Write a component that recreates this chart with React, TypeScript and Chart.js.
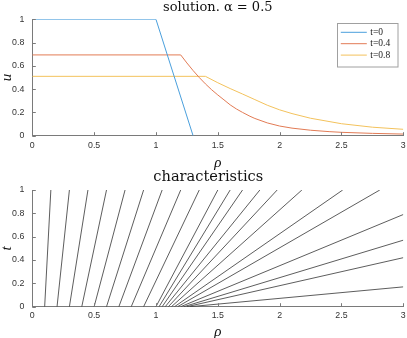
import React, { useEffect, useRef } from "react";
import { Chart, registerables } from "chart.js";
Chart.register(...registerables);

// ---- data: solution curves (rho, u) ----
const RHO_T0 = [0, 1, 1.3];
const U_T0 = [1, 1, 0];
const RHO_T04 = [0, 1.2, 1.25, 1.3, 1.35, 1.4, 1.45, 1.5, 1.55, 1.6, 1.65, 1.7, 1.76, 1.8, 1.9, 2.0, 2.1, 2.25, 2.4, 2.5, 2.75, 3.0];
const U_T04 = [0.694, 0.694, 0.625, 0.56, 0.5, 0.445, 0.395, 0.35, 0.308, 0.265, 0.23, 0.2, 0.167, 0.148, 0.11, 0.083, 0.065, 0.047, 0.035, 0.029, 0.02, 0.014];
const RHO_T08 = [0, 1.4, 1.5, 1.6, 1.7, 1.8, 1.9, 2.0, 2.1, 2.25, 2.5, 2.75, 3.0];
const U_T08 = [0.51, 0.51, 0.455, 0.405, 0.358, 0.31, 0.262, 0.222, 0.19, 0.15, 0.103, 0.073, 0.055];
const SERIES_LABELS = ["t=0", "t=0.4", "t=0.8"];
const SERIES_COLORS = ["#4a9fdc", "#e27b55", "#f3c25c"];

// ---- data: characteristics (start rho at t=0, end rho, end t) ----
const CHAR_START = [0.1, 0.2, 0.3, 0.4, 0.5, 0.6, 0.7, 0.8, 0.9, 1.0, 1.025, 1.05, 1.075, 1.1, 1.125, 1.15, 1.175, 1.2, 1.225, 1.25, 1.275];
const CHAR_END_RHO = [0.15, 0.3, 0.45, 0.6, 0.75, 0.9, 1.05, 1.2, 1.35, 1.5, 1.6, 1.7, 1.84, 1.98, 2.18, 2.51, 2.81, 3, 3, 3, 3];
const CHAR_END_T = [1, 1, 1, 1, 1, 1, 1, 1, 1, 1, 1, 1, 1, 1, 1, 1, 1, 0.79, 0.57, 0.42, 0.17];

const X_TICKS = [0, 0.5, 1, 1.5, 2, 2.5, 3];
const Y_TICKS = [0, 0.2, 0.4, 0.6, 0.8, 1];

const TOP_TITLE = "solution. α = 0.5";
const BOTTOM_TITLE = "characteristics";

const TICK_FONT = { family: "'Liberation Sans', Arial, sans-serif", size: 8.8 };
const SERIF = "'Liberation Serif', 'Times New Roman', serif";
const TITLE_SERIF = "'DejaVu Serif', serif";
const AXIS_COLOR = "#7a7a7a";

const inwardTicks = {
  id: "inwardTicks",
  afterDatasetsDraw(chart: any) {
    const { ctx, chartArea, scales } = chart;
    ctx.save();
    ctx.strokeStyle = AXIS_COLOR;
    ctx.lineWidth = 1;
    ctx.beginPath();
    scales.x.ticks.forEach((t: any) => {
      const px = Math.round(scales.x.getPixelForValue(t.value)) + 0.5;
      ctx.moveTo(px, chartArea.bottom);
      ctx.lineTo(px, chartArea.bottom - 3.5);
    });
    scales.y.ticks.forEach((t: any) => {
      const py = Math.round(scales.y.getPixelForValue(t.value)) + 0.5;
      ctx.moveTo(chartArea.left, py);
      ctx.lineTo(chartArea.left + 3.5, py);
    });
    ctx.stroke();
    ctx.restore();
  },
};

// title text drawn above the plot area, centre offset relative to the plot centre
const plotTitle = {
  id: "plotTitle",
  afterDraw(chart: any, _args: any, opts: any) {
    const { ctx, chartArea } = chart;
    ctx.save();
    ctx.font = `${opts.size}px ${TITLE_SERIF}`;
    ctx.fillStyle = "#111";
    ctx.textAlign = "center";
    ctx.textBaseline = "middle";
    const cx = (chartArea.left + chartArea.right) / 2 + (opts.dx || 0);
    ctx.fillText(opts.text, cx, opts.y);
    ctx.restore();
  },
};

const boxLegend = {
  id: "boxLegend",
  afterDraw(chart: any) {
    if (!chart.options.plugins.boxLegend?.show) return;
    const { ctx, chartArea } = chart;
    const w = 60.5, h = 43.5;
    const x0 = chartArea.right - 6 - w;
    const y0 = chartArea.top + 4;
    ctx.save();
    ctx.fillStyle = "#fff";
    ctx.fillRect(x0, y0, w, h);
    ctx.strokeStyle = "#a0a0a0";
    ctx.lineWidth = 1;
    ctx.strokeRect(Math.round(x0) + 0.5, Math.round(y0) + 0.5, w, h);
    ctx.font = `9.5px ${SERIF}`;
    ctx.textBaseline = "middle";
    ctx.textAlign = "left";
    chart.data.datasets.forEach((ds: any, i: number) => {
      const y = y0 + 9 + i * 11.4;
      ctx.strokeStyle = ds.borderColor;
      ctx.lineWidth = 1;
      ctx.beginPath();
      ctx.moveTo(x0 + 4, y);
      ctx.lineTo(x0 + 30, y);
      ctx.stroke();
      ctx.fillStyle = "#222";
      ctx.fillText(ds.label, x0 + 33.5, y);
    });
    ctx.restore();
  },
};

const fmt = (v: any) => String(Number(v));

function makeScales(xHeight: number, xLabelPad: number, xTitleLH: number, yTitle: string) {
  return {
    x: {
      type: "linear" as const,
      min: 0,
      max: 3,
      afterBuildTicks: (s: any) => { s.ticks = X_TICKS.map((v) => ({ value: v })); },
      afterFit: (s: any) => {
        s.height = xHeight;
        s.paddingLeft = 0;
        s.paddingRight = 0;
      },
      grid: { display: false, drawTicks: false },
      border: { display: true, color: AXIS_COLOR, width: 1 },
      ticks: { font: TICK_FONT, color: "#333", padding: xLabelPad, maxRotation: 0, callback: fmt },
      title: {
        display: true,
        text: "ρ",
        font: { family: SERIF, size: 15, style: "italic" as const, lineHeight: xTitleLH },
        color: "#111",
        padding: 0,
      },
    },
    y: {
      type: "linear" as const,
      min: 0,
      max: 1,
      afterBuildTicks: (s: any) => { s.ticks = Y_TICKS.map((v) => ({ value: v })); },
      afterFit: (s: any) => {
        s.width = 32.3;
        s.paddingTop = 0;
        s.paddingBottom = 0;
      },
      grid: { display: false, drawTicks: false },
      border: { display: true, color: AXIS_COLOR, width: 1 },
      ticks: { font: TICK_FONT, color: "#333", padding: 8, callback: fmt },
      title: {
        display: true,
        text: yTitle,
        font: { family: SERIF, size: 15, style: "italic" as const, lineHeight: 1 },
        color: "#111",
        padding: { top: 0, bottom: 0 },
      },
    },
  };
}

function TopChart() {
  const ref = useRef<HTMLCanvasElement>(null);
  useEffect(() => {
    const series = [
      [RHO_T0, U_T0],
      [RHO_T04, U_T04],
      [RHO_T08, U_T08],
    ];
    const chart = new Chart(ref.current!, {
      type: "scatter",
      data: {
        datasets: series.map(([xs, ys], i) => ({
          label: SERIES_LABELS[i],
          data: xs.map((x, k) => ({ x, y: ys[k] })),
          showLine: true,
          borderColor: SERIES_COLORS[i],
          backgroundColor: SERIES_COLORS[i],
          borderWidth: 1,
          pointRadius: 0,
          tension: 0,
        })),
      },
      options: {
        responsive: false,
        animation: false,
        layout: { autoPadding: false, padding: { top: 19.3, right: 3.7, bottom: 0, left: 0 } },
        plugins: {
          legend: { display: false },
          tooltip: { enabled: false },
          title: { display: false },
          plotTitle: { text: TOP_TITLE, size: 13, y: 7.5, dx: 0 },
          boxLegend: { show: true },
        } as any,
        scales: makeScales(34.3, 5, 14 / 15, "u") as any,
      },
      plugins: [inwardTicks, boxLegend, plotTitle],
    });
    return () => chart.destroy();
  }, []);
  return <canvas ref={ref} width={407} height={170} style={{ position: "absolute", left: 0, top: 0 }} />;
}

function BottomChart() {
  const ref = useRef<HTMLCanvasElement>(null);
  useEffect(() => {
    const chart = new Chart(ref.current!, {
      type: "scatter",
      data: {
        datasets: CHAR_START.map((r0, i) => ({
          label: "c" + i,
          data: [
            { x: r0, y: 0 },
            { x: CHAR_END_RHO[i], y: CHAR_END_T[i] },
          ],
          showLine: true,
          borderColor: "#333",
          borderWidth: 0.8,
          pointRadius: 0,
        })),
      },
      options: {
        responsive: false,
        animation: false,
        layout: { autoPadding: false, padding: { top: 20, right: 3.7, bottom: 0, left: 0 } },
        plugins: {
          legend: { display: false },
          tooltip: { enabled: false },
          title: { display: false },
          plotTitle: { text: BOTTOM_TITLE, size: 14.6, y: 7.5, dx: -9.5 },
          boxLegend: { show: false },
        } as any,
        scales: makeScales(31.3, 4, 12 / 15, "t") as any,
      },
      plugins: [inwardTicks, plotTitle],
    });
    return () => chart.destroy();
  }, []);
  return <canvas ref={ref} width={407} height={168} style={{ position: "absolute", left: 0, top: 170 }} />;
}

export default function App() {
  return (
    <div style={{ position: "absolute", left: 0, top: 0, width: 407, height: 338, background: "#fff", overflow: "hidden" }}>
      <TopChart />
      <BottomChart />
    </div>
  );
}
